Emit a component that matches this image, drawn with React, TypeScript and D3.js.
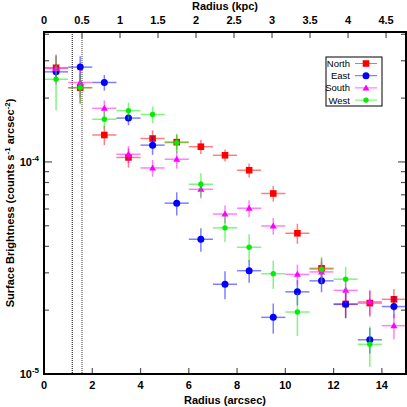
import { useEffect, useRef } from "react";
import * as d3 from "d3";

// bin centres (arcsec)
const radius = [0.5, 1.5, 2.5, 3.5, 4.5, 5.5, 6.5, 7.5, 8.5, 9.5, 10.5, 11.5, 12.5, 13.5, 14.5];

const north = [2.78e-4, 2.24e-4, 1.34e-4, 1.05e-4, 1.29e-4, 1.24e-4, 1.18e-4, 1.075e-4, 9.14e-5, 7.1e-5, 4.61e-5, 3.15e-5, 2.14e-5, 2.16e-5, 2.25e-5];
const northErr = [4.0e-5, 3.5e-5, 1.4e-5, 1.1e-5, 1.2e-5, 1.0e-5, 0.9e-5, 0.7e-5, 0.7e-5, 0.6e-5, 0.5e-5, 0.35e-5, 0.3e-5, 0.3e-5, 0.27e-5];

const east = [2.66e-4, 2.8e-4, 2.37e-4, 1.61e-4, 1.2e-4, 6.39e-5, 4.32e-5, 2.65e-5, 3.07e-5, 1.85e-5, 2.44e-5, 2.75e-5, 2.13e-5, 1.45e-5, 2.08e-5];
const eastErr = [2.4e-5, 3.5e-5, 2.0e-5, 1.2e-5, 1.2e-5, 0.8e-5, 0.55e-5, 0.4e-5, 0.38e-5, 0.3e-5, 0.33e-5, 0.32e-5, 0.3e-5, 0.2e-5, 0.25e-5];

const south = [2.76e-4, 2.37e-4, 1.79e-4, 1.087e-4, 9.37e-5, 1.03e-4, 7.43e-5, 5.68e-5, 6.05e-5, 4.99e-5, 2.95e-5, 3.03e-5, 2.48e-5, 2.19e-5, 1.69e-5];
const southErr = [4.5e-5, 3.5e-5, 1.6e-5, 1.0e-5, 0.85e-5, 1.0e-5, 0.7e-5, 0.55e-5, 0.55e-5, 0.45e-5, 0.33e-5, 0.35e-5, 0.33e-5, 0.3e-5, 0.23e-5];

const west = [2.455e-4, 2.24e-4, 1.59e-4, 1.746e-4, 1.675e-4, 1.233e-4, 7.85e-5, 4.89e-5, 3.96e-5, 2.97e-5, 1.96e-5, 3.12e-5, 2.8e-5, 1.38e-5, null];
const westErr = [7e-5, 3.7e-5, 1.5e-5, 1.6e-5, 1.5e-5, 1.3e-5, 1.0e-5, 0.7e-5, 0.6e-5, 0.45e-5, 0.45e-5, 0.45e-5, 0.4e-5, 0.3e-5, null];

const xTicks = [0, 2, 4, 6, 8, 10, 12, 14];
const kpcTicks = [0, 0.5, 1, 1.5, 2, 2.5, 3, 3.5, 4, 4.5];
const kpcPerArcsec = 0.3175;
const markLines = [1.17, 1.575]; // arcsec

const series = [
  { name: "North", y: north, err: northErr, color: "#ff0000", shape: "square" },
  { name: "East", y: east, err: eastErr, color: "#0000ff", shape: "circle" },
  { name: "South", y: south, err: southErr, color: "#ff00ff", shape: "triangle" },
  { name: "West", y: west, err: westErr, color: "#00ee00", shape: "dot" },
];

const W = 407, H = 407;
const m = { left: 44, right: 1, top: 32, bottom: 33 };
const font = "'Liberation Sans', Arial, sans-serif";

function marker(g, shape, color, x, y) {
  if (shape === "square") {
    g.append("rect").attr("x", x - 3.3).attr("y", y - 3.3).attr("width", 6.6).attr("height", 6.6).attr("fill", color);
  } else if (shape === "circle") {
    g.append("circle").attr("cx", x).attr("cy", y).attr("r", 3.5).attr("fill", color);
  } else if (shape === "triangle") {
    g.append("path").attr("d", `M${x},${y - 3.5}L${x + 3.5},${y + 2.5}L${x - 3.5},${y + 2.5}Z`).attr("fill", color);
  } else {
    g.append("circle").attr("cx", x).attr("cy", y).attr("r", 2.7).attr("fill", color);
  }
}

export default function App() {
  const svgRef = useRef(null);

  useEffect(() => {
    const svg = d3.select(svgRef.current);
    svg.selectAll("*").remove();

    const x = d3.scaleLinear().domain([0, 15]).range([m.left, W - m.right]);
    const y = d3.scaleLog().domain([1e-5, 4.1e-4]).range([H - m.bottom, m.top]);
    const x0 = m.left, x1 = W - m.right, y0 = H - m.bottom, y1 = m.top;

    // ticks bottom / top
    const tk = svg.append("g").attr("stroke", "#555").attr("stroke-width", 1.2);
    xTicks.forEach((t) => {
      if (t === 0) return;
      tk.append("line").attr("x1", x(t)).attr("x2", x(t)).attr("y1", y0).attr("y2", y0 - 6);
    });
    kpcTicks.forEach((t) => {
      if (t === 0) return;
      const px = x(t / kpcPerArcsec);
      tk.append("line").attr("x1", px).attr("x2", px).attr("y1", y1).attr("y2", y1 + 6);
    });
    // log ticks left / right
    for (let d = -5; d <= -4; d++) {
      for (let k = 1; k <= 9; k++) {
        const v = k * Math.pow(10, d);
        if (v < 1e-5 || v > 4.1e-4) continue;
        const len = k === 1 ? 8 : 5;
        tk.append("line").attr("x1", x0).attr("x2", x0 + len).attr("y1", y(v)).attr("y2", y(v));
        tk.append("line").attr("x1", x1).attr("x2", x1 - len).attr("y1", y(v)).attr("y2", y(v));
      }
    }

    // vertical dotted lines
    svg.append("line").attr("x1", x(markLines[0])).attr("x2", x(markLines[0]))
      .attr("y1", y1).attr("y2", y0).attr("stroke", "#000").attr("stroke-width", 1).attr("stroke-dasharray", "1,1");
    svg.append("line").attr("x1", x(markLines[1])).attr("x2", x(markLines[1]))
      .attr("y1", y1).attr("y2", y0).attr("stroke", "#777").attr("stroke-width", 1.5).attr("stroke-dasharray", "1,1");

    // data
    series.forEach((s) => {
      const g = svg.append("g");
      radius.forEach((r, i) => {
        const v = s.y[i];
        if (v == null) return;
        const e = s.err[i];
        const cx = x(r), cy = y(v);
        g.append("line").attr("x1", x(r - 0.5)).attr("x2", x(r + 0.5)).attr("y1", cy).attr("y2", cy)
          .attr("stroke", s.color).attr("stroke-opacity", 0.5).attr("stroke-width", 1.5);
        g.append("line").attr("x1", cx).attr("x2", cx).attr("y1", y(v + e)).attr("y2", y(Math.max(v - e, 1.01e-5)))
          .attr("stroke", s.color).attr("stroke-opacity", 0.5).attr("stroke-width", 1.5);
        marker(g, s.shape, s.color, cx, cy);
      });
    });

    // frame
    svg.append("rect").attr("x", x0).attr("y", y1).attr("width", x1 - x0).attr("height", y0 - y1)
      .attr("fill", "none").attr("stroke", "#000").attr("stroke-width", 2);

    // tick labels
    const lab = svg.append("g").attr("font-family", font).attr("font-size", 11).attr("font-weight", "bold").attr("fill", "#000");
    xTicks.forEach((t) => {
      lab.append("text").attr("x", x(t)).attr("y", y0 + 15).attr("text-anchor", "middle").text(t);
    });
    kpcTicks.forEach((t) => {
      lab.append("text").attr("x", x(t / kpcPerArcsec)).attr("y", 24).attr("text-anchor", "middle").text(t);
    });
    [-5, -4].forEach((d) => {
      const t = lab.append("text").attr("x", x0 - 5).attr("y", y(Math.pow(10, d)) + 4).attr("text-anchor", "end");
      t.append("tspan").text("10");
      t.append("tspan").attr("dy", -5).attr("font-size", 8).text(String(d));
    });

    lab.append("text").attr("x", (x0 + x1) / 2).attr("y", 404).attr("text-anchor", "middle").text("Radius (arcsec)");
    lab.append("text").attr("x", (x0 + x1) / 2).attr("y", 10).attr("text-anchor", "middle").text("Radius (kpc)");
    const yl = lab.append("text").attr("transform", `translate(14,${(y0 + y1) / 2}) rotate(-90)`).attr("text-anchor", "middle");
    yl.append("tspan").text("Surface Brightness (counts s");
    yl.append("tspan").attr("dy", -4).attr("font-size", 8).text("-1");
    yl.append("tspan").attr("dy", 4).text(" arcsec");
    yl.append("tspan").attr("dy", -4).attr("font-size", 8).text("-2");
    yl.append("tspan").attr("dy", 4).text(")");

    // legend
    const lg = svg.append("g");
    lg.append("rect").attr("x", 326).attr("y", 57).attr("width", 56).attr("height", 49)
      .attr("fill", "#fff").attr("stroke", "#000").attr("stroke-width", 1);
    series.forEach((s, i) => {
      const ly = 63.5 + i * 12.2;
      lg.append("text").attr("x", 350).attr("y", ly + 3.5).attr("text-anchor", "end")
        .attr("font-family", font).attr("font-size", 9.5).text(s.name);
      lg.append("line").attr("x1", 355).attr("x2", 377).attr("y1", ly).attr("y2", ly)
        .attr("stroke", s.color).attr("stroke-opacity", 0.6).attr("stroke-width", 1);
      marker(lg, s.shape, s.color, 366, ly);
    });
  }, []);

  return (
    <svg ref={svgRef} width={W} height={H}
      style={{ position: "absolute", left: 0, top: 0, background: "#fff" }} />
  );
}
